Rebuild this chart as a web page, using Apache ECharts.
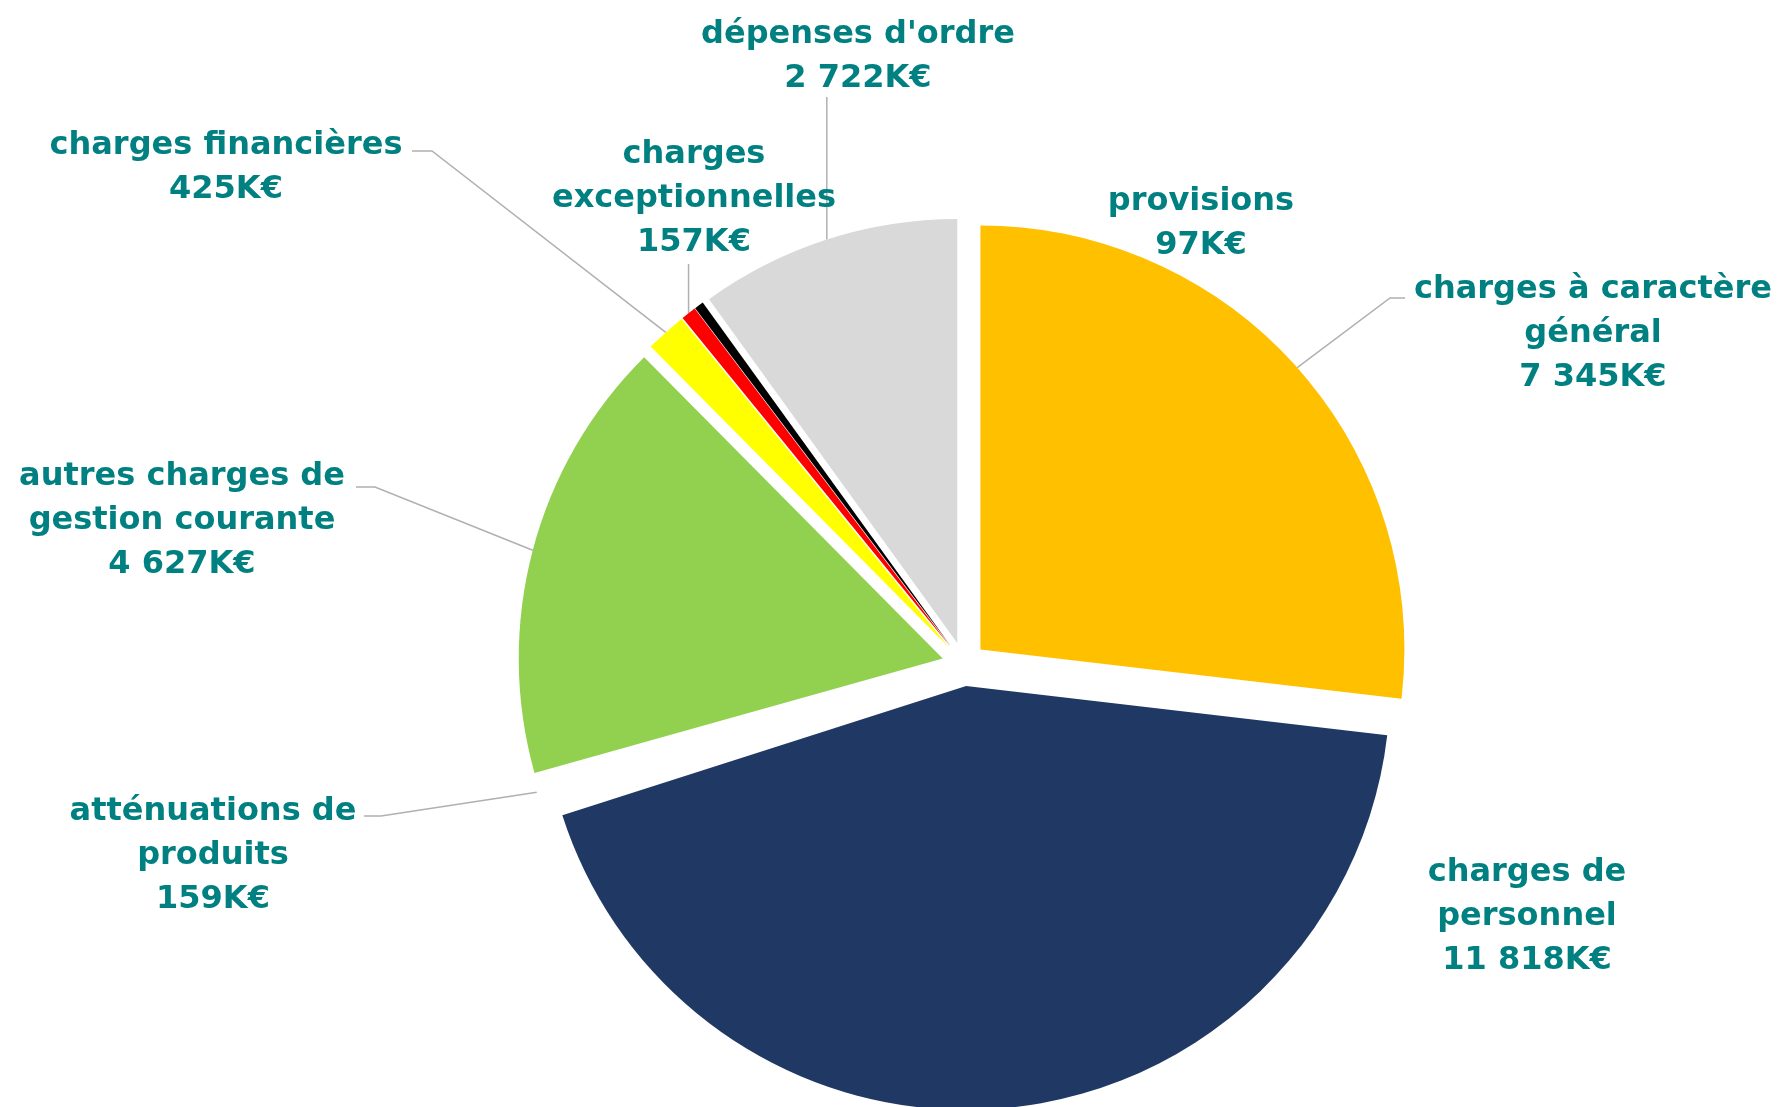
<!DOCTYPE html>
<html><head><meta charset="utf-8">
<script src="https://cdn.jsdelivr.net/npm/echarts@6/dist/echarts.min.js"></script>
<style>html,body{margin:0;padding:0;background:#fff}#c{width:1783px;height:1107px}</style>
</head><body><div id="c"></div>
<script>
// ---- data ----
const categories = ["charges à caractère général", "charges de personnel", "atténuations de produits",
  "autres charges de gestion courante", "charges financières", "charges exceptionnelles", "provisions", "dépenses d'ordre"];
const values = [7345, 11818, 159, 4627, 425, 157, 97, 2722];
const labelNames = ["charges à caractère\ngénéral", "charges de\npersonnel", "atténuations de\nproduits",
  "autres charges de\ngestion courante", "charges financières", "charges\nexceptionnelles", "provisions", "dépenses d'ordre"];

// ---- style / layout ----
const colors = ["#FFC000", "#203864", "#FFFFFF", "#92D050", "#FFFF00", "#FF0000", "#000000", "#D9D9D9"];
const CX = 964, CY = 664, R = 424, OFF = 22;
const labelPos = [[1593, 334], [1527, 917], [213, 856], [182, 521], [226, 168], [694, 199], [1201, 224], [858, 57]];
// leader: list of extra points after the arc point; 'v' = vertical to given y
const leader = [[[1390, 298], [1405, 298]], null, [[381, 816], [364, 816]], [[375, 487], [356, 487]],
  [[432, 151], [412, 151]], {v: 264}, null, {v: 97}];

const total = values.reduce((a, b) => a + b, 0);
const mids = [];
let acc = 0;
values.forEach(v => { mids.push((acc + v / 2) / total * 2 * Math.PI); acc += v; });

function fmt(v) { return String(v).replace(/\B(?=(\d{3})+(?!\d))/g, ' '); }

const series = values.map((_, i) => {
  const dx = Math.sin(mids[i]), dy = -Math.cos(mids[i]);
  const c = [CX + OFF * dx, CY + OFF * dy];
  const arc = [CX + (R + OFF) * dx, CY + (R + OFF) * dy];
  let pts = null;
  if (leader[i]) {
    if (leader[i].v !== undefined) pts = [arc, [arc[0], (arc[1] + leader[i].v) / 2], [arc[0], leader[i].v]];
    else pts = [arc].concat(leader[i]);
  }
  return {
    type: 'pie', radius: R, center: c, startAngle: 90, clockwise: true,
    animation: false, silent: true, avoidLabelOverlap: false, minAngle: 0,
    emphasis: {disabled: true},
    data: values.map((v, j) => ({
      name: categories[j], value: v,
      itemStyle: {color: j === i ? colors[i] : 'rgba(0,0,0,0)', borderWidth: 0},
      label: {show: j === i},
      labelLine: {show: j === i && !!pts}
    })),
    label: {
      position: 'outside',
      formatter: p => labelNames[p.dataIndex] + '\n' + fmt(p.value) + 'K€',
      fontFamily: 'DejaVu Sans', fontWeight: 'bold', fontSize: 32, lineHeight: 44,
      color: '#008080', align: 'center'
    },
    labelLine: {lineStyle: {color: '#B0B0B0', width: 1.5}},
    labelLayout: function (p) {
      if (p.dataIndex !== i) return {};
      const o = {x: labelPos[i][0], y: labelPos[i][1], align: 'center', verticalAlign: 'middle'};
      if (pts) o.labelLinePoints = pts;
      return o;
    }
  };
});

const chart = echarts.init(document.getElementById('c'), null, {renderer: 'canvas'});
chart.setOption({backgroundColor: '#ffffff', series: series});
</script>
</body></html>
